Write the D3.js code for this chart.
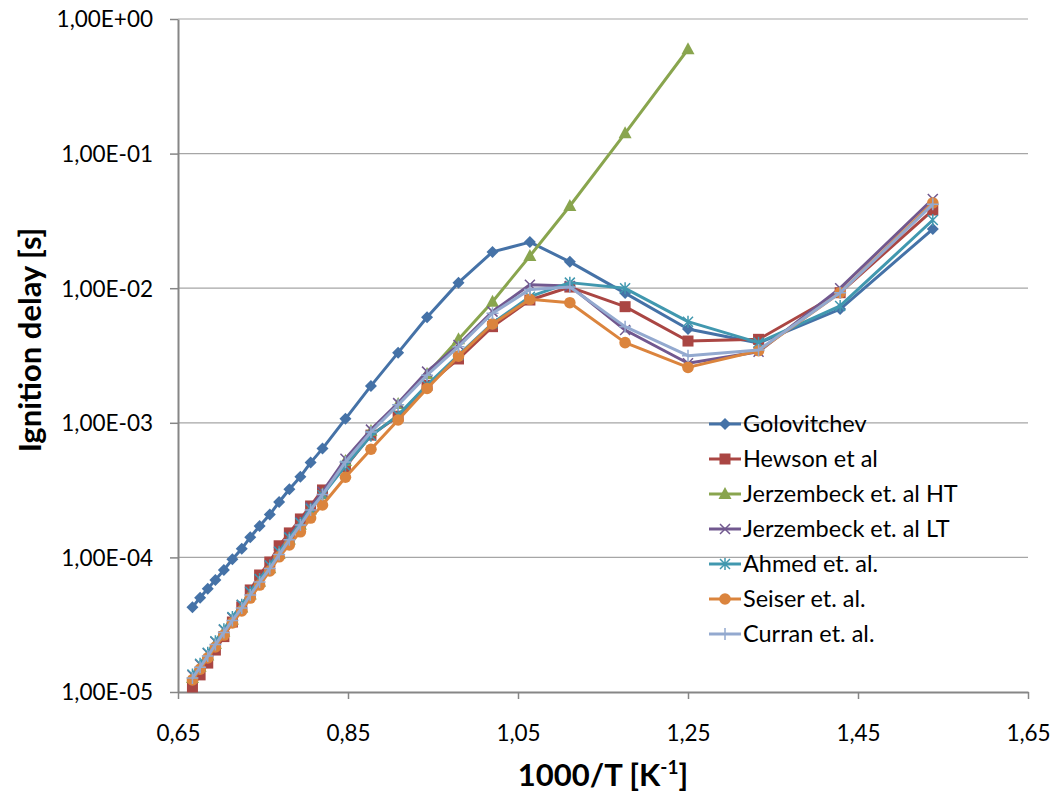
<!DOCTYPE html>
<html><head><meta charset="utf-8">
<script src="https://cdn.jsdelivr.net/npm/d3@7"></script>
<style>
body{margin:0;background:#fff}
text{font-family:Lato,"Liberation Sans",Arial,sans-serif;fill:#000}
</style>
</head><body>
<svg id="chart" width="1053" height="792"></svg>
<script>
// 1000/T values [1/K *1000]
const invT = [0.667,0.676,0.685,0.694,0.704,0.714,0.725,0.735,0.746,0.758,0.769,0.781,0.794,0.806,0.820,0.847,0.877,0.909,0.943,0.980,1.020,1.064,1.111,1.176,1.250,1.333,1.429,1.538];

const golovitchev = [4.26e-5,5.02e-5,5.86e-5,6.8e-5,8.07e-5,9.69e-5,1.16e-4,1.41e-4,1.71e-4,2.08e-4,2.58e-4,3.21e-4,3.98e-4,5.06e-4,6.43e-4,1.07e-3,1.88e-3,3.32e-3,6.08e-3,1.10e-2,1.86e-2,2.20e-2,1.57e-2,9.2e-3,4.97e-3,3.92e-3,7.0e-3,2.75e-2];
const hewson = [1.09e-5,1.34e-5,1.64e-5,2.05e-5,2.58e-5,3.31e-5,4.28e-5,5.73e-5,7.40e-5,9.24e-5,1.22e-4,1.52e-4,1.93e-4,2.41e-4,3.17e-4,4.7e-4,8.1e-4,1.12e-3,1.9e-3,2.98e-3,5.18e-3,8.17e-3,1.02e-2,7.29e-3,4.05e-3,4.17e-3,9.26e-3,3.81e-2];
const jerzembeckHT = [1.27e-5,1.54e-5,1.87e-5,2.27e-5,2.8e-5,3.44e-5,4.25e-5,5.3e-5,6.6e-5,8.3e-5,1.06e-4,1.36e-4,1.75e-4,2.27e-4,2.95e-4,5.2e-4,8.7e-4,1.38e-3,2.3e-3,4.17e-3,7.94e-3,1.735e-2,4.08e-2,1.415e-1,5.96e-1];
const jerzembeckLT = [1.33e-5,1.6e-5,1.94e-5,2.36e-5,2.9e-5,3.57e-5,4.42e-5,5.52e-5,6.9e-5,8.7e-5,1.1e-4,1.42e-4,1.83e-4,2.36e-4,3.07e-4,5.4e-4,8.9e-4,1.40e-3,2.4e-3,3.79e-3,6.7e-3,1.06e-2,1.04e-2,4.89e-3,2.77e-3,3.37e-3,1.0e-2,4.6e-2];
const ahmed = [1.35e-5,1.62e-5,1.96e-5,2.38e-5,2.92e-5,3.6e-5,4.45e-5,5.55e-5,6.9e-5,8.7e-5,1.1e-4,1.4e-4,1.8e-4,2.3e-4,2.9e-4,4.8e-4,8.0e-4,1.14e-3,1.91e-3,3.19e-3,5.49e-3,8.65e-3,1.10e-2,9.98e-3,5.64e-3,3.94e-3,7.38e-3,3.21e-2];
const seiser = [1.23e-5,1.48e-5,1.79e-5,2.16e-5,2.65e-5,3.26e-5,4.00e-5,4.99e-5,6.23e-5,7.93e-5,1.01e-4,1.24e-4,1.55e-4,1.96e-4,2.45e-4,3.94e-4,6.36e-4,1.05e-3,1.80e-3,3.13e-3,5.42e-3,8.27e-3,7.80e-3,3.94e-3,2.58e-3,3.43e-3,9.26e-3,4.3e-2];
const curran = [1.27e-5,1.53e-5,1.85e-5,2.25e-5,2.77e-5,3.40e-5,4.21e-5,5.26e-5,6.57e-5,8.27e-5,1.05e-4,1.35e-4,1.74e-4,2.25e-4,2.93e-4,5.12e-4,8.55e-4,1.36e-3,2.26e-3,3.68e-3,6.51e-3,9.8e-3,1.02e-2,5.18e-3,3.15e-3,3.47e-3,9.26e-3,4.2e-2];

const seriesNames = ["Golovitchev","Hewson et al","Jerzembeck et. al HT","Jerzembeck et. al LT","Ahmed et. al.","Seiser et. al.","Curran et. al."];
const seriesValues = [golovitchev,hewson,jerzembeckHT,jerzembeckLT,ahmed,seiser,curran];
const seriesColors = ["#4572A7","#AA4643","#89A54E","#71588F","#4198AF","#DB843D","#93A9CF"];
const seriesMarkers = ["diamond","square","triangle","x","star","circle","plus"];

const xTicks = [0.65,0.85,1.05,1.25,1.45,1.65];
const xTickLabels = ["0,65","0,85","1,05","1,25","1,45","1,65"];
const yTicks = [1e-5,1e-4,1e-3,1e-2,1e-1,1];
const yTickLabels = ["1,00E-05","1,00E-04","1,00E-03","1,00E-02","1,00E-01","1,00E+00"];

const svg = d3.select("#chart");
const L = 178, R = 1028, T = 19, B = 692;
const x = d3.scaleLinear().domain([0.65,1.65]).range([L,R]);
const y = d3.scaleLog().domain([1e-5,1]).range([B,T]);

// gridlines
svg.append("g").selectAll("line").data(yTicks.slice(1)).join("line")
  .attr("x1",L).attr("x2",R).attr("y1",d=>y(d)).attr("y2",d=>y(d))
  .attr("stroke","#a6a6a6").attr("stroke-width",1.2);

// axes
const yAxis = svg.append("g").attr("transform",`translate(${L},0)`)
  .call(d3.axisLeft(y).tickValues(yTicks).tickFormat((d,i)=>yTickLabels[i]).tickSize(8).tickSizeOuter(0));
const xAxis = svg.append("g").attr("transform",`translate(0,${B})`)
  .call(d3.axisBottom(x).tickValues(xTicks).tickFormat((d,i)=>xTickLabels[i]).tickSize(7).tickSizeOuter(0));
[yAxis,xAxis].forEach(a=>{
  a.select(".domain").attr("stroke","#868686").attr("stroke-width",2);
  a.selectAll(".tick line").attr("stroke","#868686").attr("stroke-width",1.5);
  a.selectAll(".tick text").style("font-size","22.5px").style("font-family","Lato, 'Liberation Sans', sans-serif").attr("fill","#000");
});
yAxis.selectAll(".tick text").attr("x",-25).attr("dy","0.35em");
xAxis.selectAll(".tick text").attr("y",41).attr("dy","0.35em");

// markers
function drawMarker(g, type, color, cx, cy){
  switch(type){
    case "diamond":
      g.append("path").attr("d",`M${cx},${cy-6}L${cx+6},${cy}L${cx},${cy+6}L${cx-6},${cy}Z`).attr("fill",color); break;
    case "square":
      g.append("rect").attr("x",cx-5.5).attr("y",cy-5.5).attr("width",11).attr("height",11).attr("fill",color); break;
    case "triangle":
      g.append("path").attr("d",`M${cx},${cy-7}L${cx+6.5},${cy+5}L${cx-6.5},${cy+5}Z`).attr("fill",color); break;
    case "x":
      g.append("path").attr("d",`M${cx-5},${cy-5}L${cx+5},${cy+5}M${cx-5},${cy+5}L${cx+5},${cy-5}`).attr("stroke",color).attr("stroke-width",1.5); break;
    case "star":
      g.append("path").attr("d",`M${cx-5},${cy-5}L${cx+5},${cy+5}M${cx-5},${cy+5}L${cx+5},${cy-5}M${cx},${cy-6}L${cx},${cy+6}`).attr("stroke",color).attr("stroke-width",1.5); break;
    case "circle":
      g.append("circle").attr("cx",cx).attr("cy",cy).attr("r",5.8).attr("fill",color); break;
    case "plus":
      g.append("path").attr("d",`M${cx},${cy-6}L${cx},${cy+6}M${cx-6},${cy}L${cx+6},${cy}`).attr("stroke",color).attr("stroke-width",1.5); break;
  }
}

const line = d3.line().x(d=>x(d[0])).y(d=>y(d[1]));
seriesValues.forEach((vals,si)=>{
  const pts = vals.map((v,i)=>[invT[i],v]);
  const g = svg.append("g");
  g.append("path").attr("d",line(pts)).attr("fill","none")
    .attr("stroke",seriesColors[si]).attr("stroke-width",3).attr("stroke-linejoin","round");
  pts.forEach(p=>drawMarker(g,seriesMarkers[si],seriesColors[si],x(p[0]),y(p[1])));
});

// legend
const lg = svg.append("g");
seriesNames.forEach((name,i)=>{
  const cy = 424 + i*35;
  lg.append("line").attr("x1",709).attr("x2",741).attr("y1",cy).attr("y2",cy)
    .attr("stroke",seriesColors[i]).attr("stroke-width",3);
  drawMarker(lg,seriesMarkers[i],seriesColors[i],725,cy);
  lg.append("text").attr("x",743).attr("y",cy).attr("dy","0.35em")
    .style("font-size","23.5px").text(name);
});

// axis titles
svg.append("text").attr("transform","translate(30,340) rotate(-90)")
  .attr("text-anchor","middle").attr("dy","0.35em")
  .style("font-size","31px").style("font-weight","bold").text("Ignition delay [s]");
const xt = svg.append("text").attr("x",603).attr("y",775).attr("text-anchor","middle").attr("dy","0.35em")
  .style("font-size","31px").style("font-weight","bold");
xt.append("tspan").text("1000/T [K");
xt.append("tspan").attr("dy","-12").style("font-size","19px").text("-1");
xt.append("tspan").attr("dy","12").text("]");
</script>
</body></html>
